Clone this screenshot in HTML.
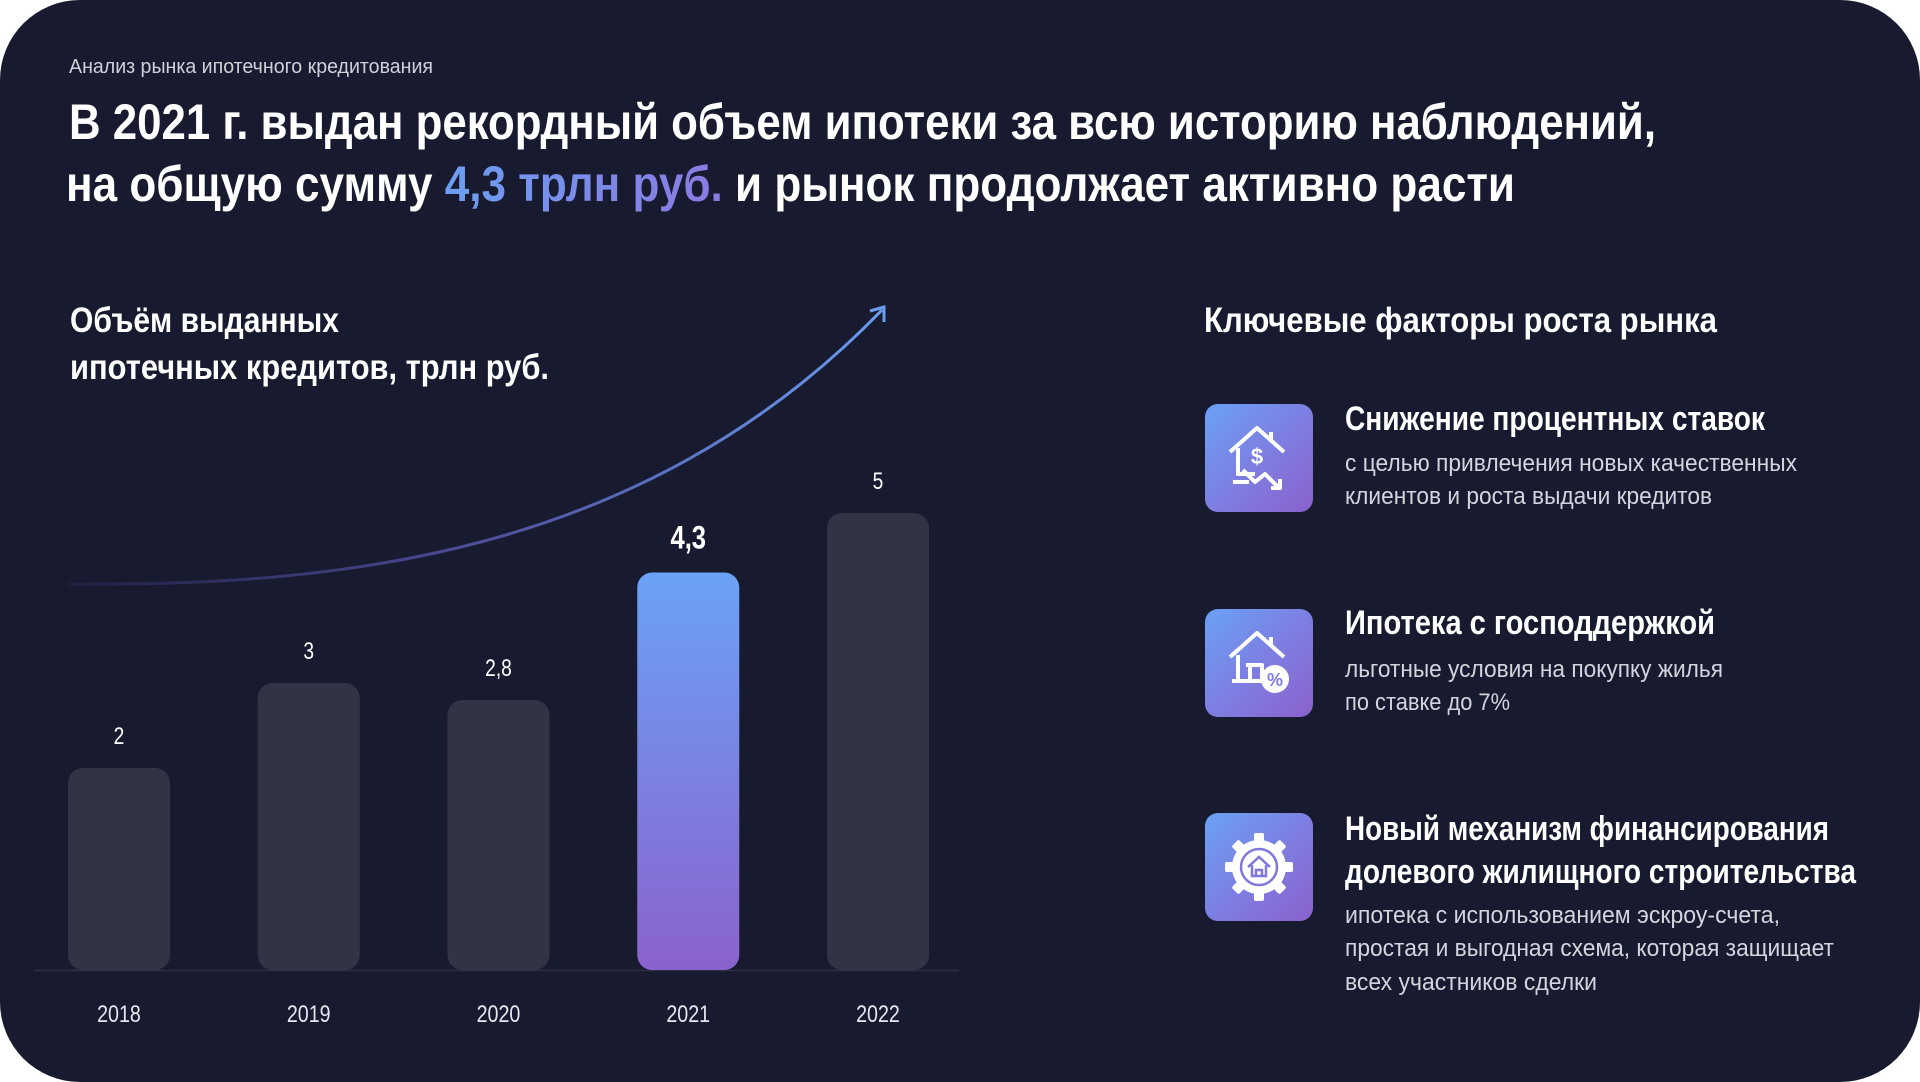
<!DOCTYPE html>
<html><head><meta charset="utf-8">
<style>
html,body{margin:0;padding:0;background:#fff;}
body{width:1920px;height:1082px;position:relative;overflow:hidden;font-family:"Liberation Sans","DejaVu Sans",sans-serif;}
#card{position:absolute;left:0;top:0;width:1920px;height:1082px;background:#181b2f;border-radius:80px;}
.t{position:absolute;white-space:nowrap;transform-origin:0 50%;display:block;color:#fff;}
.b{font-weight:bold;}
.desc{color:#d3d5de;font-size:24px;line-height:24px;}
.ititle{font-weight:bold;font-size:34px;line-height:34px;}
.hl{background:linear-gradient(90deg,#6c9ef2,#8b79e2);-webkit-background-clip:text;background-clip:text;color:transparent;}
.icon{position:absolute;left:1205px;width:108px;height:108px;border-radius:13px;background:linear-gradient(135deg,#6aa2f5 0%,#7d7fe2 50%,#8b61cc 100%);}
.icon svg{position:absolute;left:0;top:0;}
</style></head><body>
<div id="card">
<div class="t" data-w="364" style="left:69px;top:57px;font-size:20px;line-height:20px;color:#cfd1da">Анализ рынка ипотечного кредитования</div>
<div class="t b" data-w="1587" style="left:69px;top:97px;font-size:50px;line-height:50px">В 2021 г. выдан рекордный объем ипотеки за всю историю наблюдений,</div>
<div class="t b" data-w="1449" style="left:66px;top:159px;font-size:50px;line-height:50px">на общую сумму <span class="hl">4,3 трлн руб.</span> и рынок продолжает активно расти</div>

<div class="t b" data-w="269" style="left:70px;top:303px;font-size:35px;line-height:35px">Объём выданных</div>
<div class="t b" data-w="479" style="left:70px;top:350px;font-size:35px;line-height:35px">ипотечных кредитов, трлн руб.</div>

<svg id="chart" width="1000" height="1082" style="position:absolute;left:0;top:0">
<defs>
<linearGradient id="g21" x1="0" y1="0" x2="0" y2="1"><stop offset="0" stop-color="#6aa2f6"/><stop offset="1" stop-color="#8b62cd"/></linearGradient>
<linearGradient id="gc" x1="69" y1="0" x2="884" y2="0" gradientUnits="userSpaceOnUse"><stop offset="0" stop-color="#1f2140"/><stop offset="0.45" stop-color="#4a4690"/><stop offset="1" stop-color="#6a9cf0"/></linearGradient>
</defs>
<g id="bars"></g>
</svg>

<div class="t b" data-w="513" style="left:1204px;top:303px;font-size:35px;line-height:35px">Ключевые факторы роста рынка</div>

<div class="icon" style="top:404px"><svg width="108" height="108" viewBox="0 0 108 108"><g fill="none" stroke="#fff" stroke-width="4" stroke-linejoin="round"><path d="M25 48 L52 24 L79 48"/><path d="M33 44 V70 H50"/><path d="M66 28 V38"/><path d="M38 66 L50 78 L60 70 L74 84"/><path d="M66 84 H75 V75"/><path d="M28 78 H44"/></g><text x="52" y="60" fill="#fff" font-size="22" font-family="Liberation Sans" text-anchor="middle" font-weight="bold">$</text></svg></div>
<div class="icon" style="top:609px"><svg width="108" height="108" viewBox="0 0 108 108"><g fill="none" stroke="#fff" stroke-width="4" stroke-linejoin="round"><path d="M25 48 L52 24 L79 48"/><path d="M33 46 V70"/><path d="M66 28 V38"/><path d="M41 56 H57 V70 M45 56 V70"/><path d="M27 72 H58"/></g><circle cx="70" cy="70" r="14" fill="#fff"/><text x="70" y="77" fill="#7f7adf" font-size="18" font-family="Liberation Sans" text-anchor="middle" font-weight="bold">%</text></svg></div>
<div class="icon" style="top:813px"><svg width="108" height="108" viewBox="0 0 108 108"><g fill="#fff"><circle cx="54" cy="54" r="27"/><g id="teeth"><rect x="49" y="20" width="10" height="12" rx="2"/><rect x="49" y="76" width="10" height="12" rx="2"/><rect x="20" y="49" width="12" height="10" rx="2"/><rect x="76" y="49" width="12" height="10" rx="2"/><rect x="49" y="20" width="10" height="12" rx="2" transform="rotate(45 54 54)"/><rect x="49" y="76" width="10" height="12" rx="2" transform="rotate(45 54 54)"/><rect x="20" y="49" width="12" height="10" rx="2" transform="rotate(45 54 54)"/><rect x="76" y="49" width="12" height="10" rx="2" transform="rotate(45 54 54)"/></g></g><circle cx="54" cy="54" r="18" fill="none" stroke="#8078dc" stroke-width="2.5"/><path d="M43 54 L54 44 L65 54 M47 52 V63 H61 V52 M51 63 V57 H57 V63" fill="none" stroke="#8078dc" stroke-width="2.5"/></svg></div>

<div class="t ititle" data-w="420" style="left:1345px;top:402px">Снижение процентных ставок</div>
<div class="t desc" data-w="452" style="left:1345px;top:452px">с целью привлечения новых качественных</div>
<div class="t desc" data-w="367" style="left:1345px;top:485px">клиентов и роста выдачи кредитов</div>

<div class="t ititle" data-w="370" style="left:1345px;top:606px">Ипотека с господдержкой</div>
<div class="t desc" data-w="378" style="left:1345px;top:658px">льготные условия на покупку жилья</div>
<div class="t desc" data-w="165" style="left:1345px;top:691px">по ставке до 7%</div>

<div class="t ititle" data-w="484" style="left:1345px;top:812px">Новый механизм финансирования</div>
<div class="t ititle" data-w="511" style="left:1345px;top:855px">долевого жилищного строительства</div>
<div class="t desc" data-w="435" style="left:1345px;top:904px">ипотека с использованием эскроу-счета,</div>
<div class="t desc" data-w="489" style="left:1345px;top:937px">простая и выгодная схема, которая защищает</div>
<div class="t desc" data-w="252" style="left:1345px;top:971px">всех участников сделки</div>
</div>

<script>
const years = ["2018","2019","2020","2021","2022"];
const values = [2, 3, 2.8, 4.3, 5];
const valueLabels = ["2","3","2,8","4,3","5"];
const highlightIndex = 3;

const NS = "http://www.w3.org/2000/svg";
const baseY = 970, barW = 102;
function x(i){ return 119 + i * 189.75; }
function y(v){ return baseY - (32 + 85 * v); }
const svg = document.getElementById('chart');
const g = document.getElementById('bars');

const axis = document.createElementNS(NS,'line');


axis.setAttribute('x1',34);axis.setAttribute('x2',959);axis.setAttribute('y1',baseY+0.5);axis.setAttribute('y2',baseY+0.5);
axis.setAttribute('stroke','#2c2f45');axis.setAttribute('stroke-width',1.5);
g.appendChild(axis);

years.forEach((yr,i)=>{
  const top = y(values[i]);
  const r = document.createElementNS(NS,'rect');
  
  
  r.setAttribute('x', x(i)-barW/2); r.setAttribute('y', top);
  r.setAttribute('width', barW); r.setAttribute('height', baseY-top);
  r.setAttribute('rx', 15);
  r.setAttribute('fill', i===highlightIndex ? 'url(#g21)' : '#333346');
  g.appendChild(r);
  const hi = i===highlightIndex;
  const lt = document.createElementNS(NS,'text');
  
  
  lt.setAttribute('x', x(i)); lt.setAttribute('y', top - (hi?24:24));
  lt.setAttribute('text-anchor','middle');
  lt.setAttribute('fill','#fff');
  lt.setAttribute('font-family','Liberation Sans, sans-serif');
  lt.setAttribute('font-size', hi?32:24);
  if(hi) lt.setAttribute('font-weight','bold');
  lt.setAttribute('transform','translate('+x(i)+' 0) scale(0.8 1) translate('+(-x(i))+' 0)');
  lt.textContent = valueLabels[i];
  g.appendChild(lt);
  const yt = document.createElementNS(NS,'text');
  
  
  yt.setAttribute('x', x(i)); yt.setAttribute('y', 1022);
  yt.setAttribute('text-anchor','middle');
  yt.setAttribute('fill','#e6e7ee');
  yt.setAttribute('font-family','Liberation Sans, sans-serif');
  yt.setAttribute('font-size', 24);
  yt.setAttribute('transform','translate('+x(i)+' 0) scale(0.82 1) translate('+(-x(i))+' 0)');
  yt.textContent = yr;
  g.appendChild(yt);
});

const curve = document.createElementNS(NS,'path');


curve.setAttribute('d','M69 584 C 330 586, 640 560, 882 310');
curve.setAttribute('fill','none');curve.setAttribute('stroke','url(#gc)');curve.setAttribute('stroke-width',3);
svg.appendChild(curve);
const head = document.createElementNS(NS,'path');


head.setAttribute('d','M870 311 L884 307 L884 322');
head.setAttribute('fill','none');head.setAttribute('stroke','#6a9cf0');head.setAttribute('stroke-width',3);
svg.appendChild(head);

document.querySelectorAll('.t[data-w]').forEach(el=>{
  const w = el.getBoundingClientRect().width;
  const target = parseFloat(el.getAttribute('data-w'));
  if(w>0) el.style.transform = 'scaleX(' + (target/w) + ')';
});
</script>
</body></html>
